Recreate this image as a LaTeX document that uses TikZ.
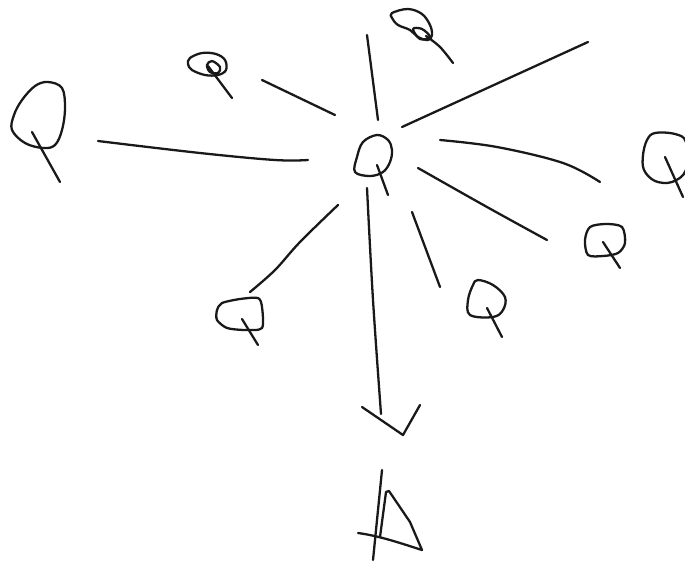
\documentclass[tikz,border=0pt]{standalone}

\tikzset{
    sketch line/.style={
      draw=black!90,
      line width=1.3pt,
      line cap=round,
      line join=round
    }
  }

\begin{document}
\begin{tikzpicture}[x=0.02cm,y=-0.02cm]
      \useasboundingbox (0,0) rectangle (685,562);

      % Q marks
      \draw[sketch line] plot[smooth cycle, tension=0.6] coordinates {(48,82) (62,88) (65,108) (62,130) (55,145) (43,148) (25,143) (12,130) (14,115) (22,100) (35,86)};
      \draw[sketch line] (32,132) -- (60,182);

      \draw[sketch line] plot[smooth cycle, tension=0.6] coordinates {(190,58) (202,53) (216,54) (225,60) (226,70) (218,75) (205,75) (192,70) (188,64)};
      \draw[sketch line] plot[smooth cycle, tension=0.6] coordinates {(207,65) (212,61) (220,67) (218,73) (210,72)};
      \draw[sketch line] (208,66) -- (232,98);

      \draw[sketch line] plot[smooth cycle, tension=0.6] coordinates {(392,13) (408,9) (422,14) (430,25) (432,35) (428,40) (418,37) (410,30) (398,25) (392,18)};
      \draw[sketch line] plot[smooth cycle, tension=0.6] coordinates {(413,29) (422,29) (430,37) (420,39)};
      \draw[sketch line] plot[smooth, tension=0.6] coordinates {(426,36) (440,47) (453,63)};

      \draw[sketch line] plot[smooth cycle, tension=0.6] coordinates {(377,135) (388,140) (392,150) (390,162) (383,172) (370,176) (355,172) (357,157) (363,142)};
      \draw[sketch line] (377,165) -- (388,195);

      \draw[sketch line] plot[smooth cycle, tension=0.6] coordinates {(655,133) (675,134) (686,142) (686,170) (672,182) (655,181) (644,170) (643,155) (647,140)};
      \draw[sketch line] (665,157) -- (683,197);

      \draw[sketch line] plot[smooth cycle, tension=0.5] coordinates {(590,227) (606,224) (622,227) (625,243) (618,253) (603,256) (588,255) (585,240)};
      \draw[sketch line] (603,242) -- (620,268);

      \draw[sketch line] plot[smooth cycle, tension=0.6] coordinates {(478,280) (493,285) (505,297) (503,310) (493,317) (470,315) (468,300) (473,285)};
      \draw[sketch line] (487,308) -- (502,337);

      \draw[sketch line] plot[smooth cycle, tension=0.45] coordinates {(222,303) (240,299) (258,298) (262,307) (262,328) (245,330) (227,328) (217,320) (217,310)};
      \draw[sketch line] (242,319) -- (258,345);

      % strokes
      \draw[sketch line] plot[smooth, tension=0.6] coordinates {(98,141) (200,153) (275,160) (308,160)};
      \draw[sketch line] (262,80) -- (335,115);
      \draw[sketch line] (367,35) -- (378,120);
      \draw[sketch line] (402,127) -- (588,42);
      \draw[sketch line] plot[smooth, tension=0.6] coordinates {(440,140) (497,147) (563,163) (600,182)};
      \draw[sketch line] plot[smooth, tension=0.6] coordinates {(418,168) (487,207) (547,240)};
      \draw[sketch line] (412,212) -- (440,287);
      \draw[sketch line] plot[smooth, tension=0.6] coordinates {(338,205) (300,242) (275,270) (250,292)};

      % arrow
      \draw[sketch line] plot[smooth, tension=0.6] coordinates {(367,188) (373,300) (381,414)};
      \draw[sketch line] (362,407) -- (403,435) -- (420,405);

      % triangle
      \draw[sketch line] (382,470) -- (373,560);
      \draw[sketch line] (380,537) -- (386,492) -- (389,491) -- (410,522) -- (422,550) .. controls (400,543) and (380,536) .. (358,533);
    \end{tikzpicture}
\end{document}
